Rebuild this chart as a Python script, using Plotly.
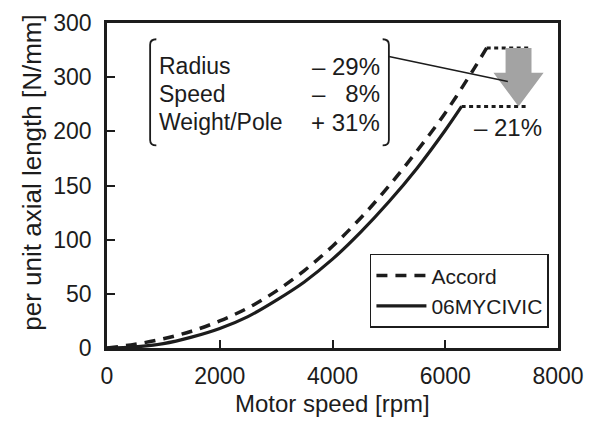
import plotly.graph_objects as go

# ---- data ----
rpm_accord = [0, 500, 1000, 1500, 2000, 2500, 3000, 3500, 4000, 4500, 5000, 5500, 6000, 6500, 6735]
force_accord = [0, 3.5, 8.5, 15.5, 25, 37, 52.5, 71.5, 94, 120, 149.5, 182, 217, 257, 277]

rpm_civic = [0, 500, 1000, 1500, 2000, 2500, 3000, 3500, 4000, 4500, 5000, 5500, 6000, 6290]
force_civic = [0, 1, 4, 10, 18, 29, 44, 61, 82, 107, 135, 166, 201, 223]

series_names = ["Accord", "06MYCIVIC"]

y_tickvals = [0, 50, 100, 150, 200, 250, 300]
y_ticktext = ["0", "50", "100", "150", "200", "300", "300"]  # as printed in the reference
x_tickvals = [0, 2000, 4000, 6000, 8000]
x_ticktext = ["0", "2000", "4000", "6000", "8000"]

factor_names = ["Radius", "Speed", "Weight/Pole"]
factor_changes = ["\u2013 29%", "\u2013 \u20078%", "+ 31%"]
peak_change = "\u2013 21%"

x_title = "Motor speed [rpm]"
y_title = "per unit axial length [N/mm]"

FONT = "Liberation Sans, Arial, sans-serif"
INK = "#1c1c1c"

fig = go.Figure()

fig.add_trace(go.Scatter(
    x=rpm_accord, y=force_accord, mode="lines", name=series_names[0],
    line=dict(color=INK, width=3.5, dash="11px,8px", shape="spline"),
))
fig.add_trace(go.Scatter(
    x=rpm_civic, y=force_civic, mode="lines", name=series_names[1],
    line=dict(color=INK, width=3.2, shape="spline"),
))

# dotted peak levels
upper_end, lower_end = 7500, 7445
fig.add_trace(go.Scatter(
    x=[rpm_accord[-1], upper_end], y=[force_accord[-1]] * 2, mode="lines",
    line=dict(color=INK, width=3, dash="4px,3.5px"), showlegend=False, hoverinfo="skip",
))
fig.add_trace(go.Scatter(
    x=[rpm_civic[-1], lower_end], y=[force_civic[-1]] * 2, mode="lines",
    line=dict(color=INK, width=3, dash="4px,3.5px"), showlegend=False, hoverinfo="skip",
))

shapes = []
# grey down arrow from the Accord peak to the Civic peak
ax = 7300
shaft_hw, head_hw, head_top = 230, 445, 254
top, tip = force_accord[-1], force_civic[-1]
arrow_path = (
    f"M {ax - shaft_hw},{top} L {ax + shaft_hw},{top} L {ax + shaft_hw},{head_top} "
    f"L {ax + head_hw},{head_top} L {ax},{tip} L {ax - head_hw},{head_top} "
    f"L {ax - shaft_hw},{head_top} Z"
)
shapes.append(dict(type="path", xref="x", yref="y", path=arrow_path,
                   fillcolor="#a3a3a3", line=dict(width=0), layer="above"))

# brackets around the factor box
bl, br, bt, bb, serif = 765, 5000, 285, 187, 110
shapes.append(dict(type="path", xref="x", yref="y",
                   path=f"M {bl + serif},{bt} Q {bl},{bt} {bl},{bt - 5} L {bl},{bb + 5} Q {bl},{bb} {bl + serif},{bb}",
                   line=dict(color=INK, width=1.8)))
shapes.append(dict(type="path", xref="x", yref="y",
                   path=f"M {br - serif},{bt} Q {br},{bt} {br},{bt - 5} L {br},{bb + 5} Q {br},{bb} {br - serif},{bb}",
                   line=dict(color=INK, width=1.8)))
# leader line from bracket to the arrow
shapes.append(dict(type="line", xref="x", yref="y", x0=br, y0=269, x1=7110, y1=246,
                   line=dict(color=INK, width=1.5), layer="above"))

annotations = []
row_y = [260, 234.5, 208.5]
for name, chg, yy in zip(factor_names, factor_changes, row_y):
    annotations.append(dict(x=880, y=yy, xref="x", yref="y", text=name, showarrow=False,
                            xanchor="left", yanchor="middle", font=dict(family=FONT, size=23, color=INK)))
    annotations.append(dict(x=4880, y=yy, xref="x", yref="y", text=chg, showarrow=False,
                            xanchor="right", yanchor="middle", font=dict(family=FONT, size=24, color=INK)))
annotations.append(dict(x=7110, y=204, xref="x", yref="y", text=peak_change, showarrow=False,
                        xanchor="center", yanchor="middle", font=dict(family=FONT, size=24, color=INK)))

# axis titles
annotations.append(dict(x=0.5, y=-0.172, xref="paper", yref="paper", text=x_title, showarrow=False,
                        xanchor="center", yanchor="middle", font=dict(family=FONT, size=24, color=INK)))
annotations.append(dict(x=-0.168, y=0.54, xref="paper", yref="paper", text=y_title, showarrow=False,
                        textangle=-90, xanchor="center", yanchor="middle",
                        font=dict(family=FONT, size=26, color=INK)))

# the page adds an 8px body margin, so the figure is 8px smaller and shifted
fig.update_layout(
    width=588, height=413,
    margin=dict(l=99, r=38, t=15, b=73, autoexpand=False),
    paper_bgcolor="white", plot_bgcolor="white",
    font=dict(family=FONT, size=23, color=INK),
    shapes=shapes, annotations=annotations,
    legend=dict(x=0.583, y=0.062, xanchor="left", yanchor="bottom",
                bgcolor="white", bordercolor=INK, borderwidth=1.5,
                font=dict(family=FONT, size=21, color=INK),
                itemwidth=50, tracegroupgap=0),
    showlegend=True,
)
fig.update_xaxes(range=[0, 8000], tickvals=x_tickvals, ticktext=x_ticktext, automargin=False,
                 showgrid=False, zeroline=False, showline=True, linecolor=INK, linewidth=2.5,
                 mirror=True, ticks="inside", ticklen=8, tickwidth=2, tickcolor=INK,
                 ticklabelstandoff=6, tickfont=dict(family=FONT, size=23, color=INK))
fig.update_yaxes(range=[0, 300], tickvals=y_tickvals, ticktext=y_ticktext, automargin=False,
                 showgrid=False, zeroline=False, showline=True, linecolor=INK, linewidth=2.5,
                 mirror=True, ticks="inside", ticklen=8, tickwidth=2, tickcolor=INK,
                 ticklabelstandoff=8, tickfont=dict(family=FONT, size=23, color=INK))

fig.write_html("out.html")
